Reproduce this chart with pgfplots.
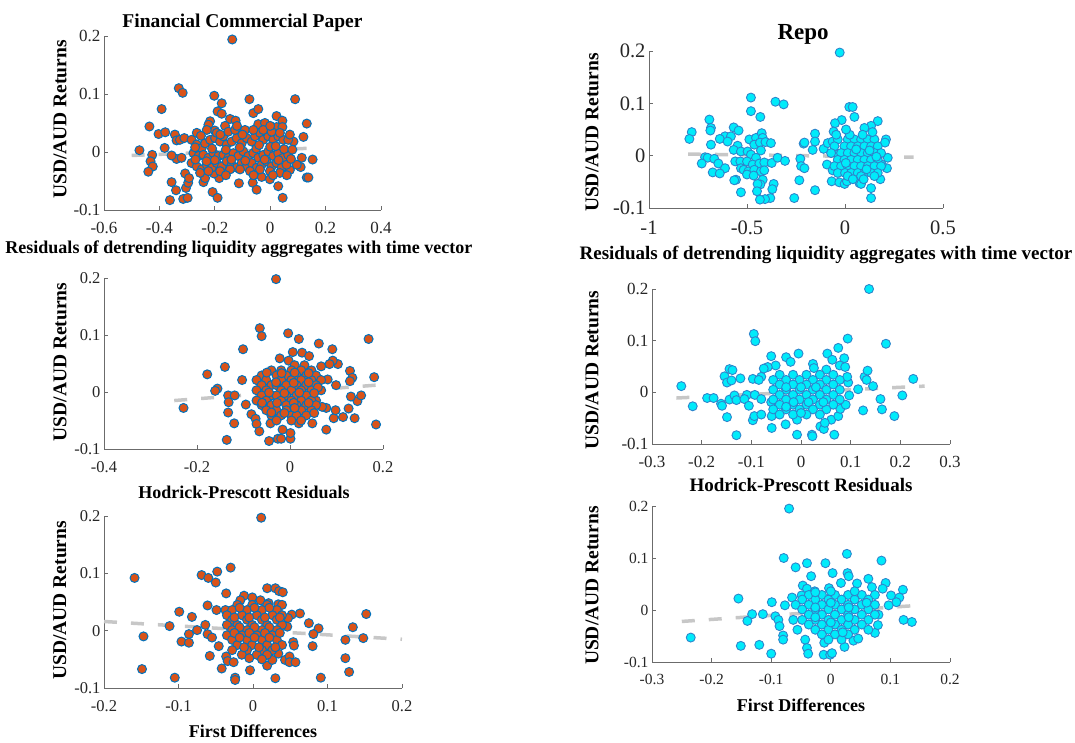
\documentclass[border=0pt]{standalone}
\usepackage{pgfplots}
\usepackage{pgfplotstable}
\pgfplotsset{compat=1.18}
\usepackage{fontspec}
\setmainfont{Liberation Serif}
\definecolor{mor}{rgb}{0.85,0.325,0.098}
\definecolor{mbl}{rgb}{0.0,0.447,0.741}
\definecolor{mcy}{rgb}{0.0,0.92,0.98}
\definecolor{cedge}{rgb}{0.18,0.52,0.80}
\definecolor{fitg}{rgb}{0.78,0.78,0.78}
\definecolor{axg}{rgb}{0.42,0.42,0.42}

\pgfplotstableread{
x y
-0.137 0.194
-0.330 0.110
-0.316 0.102
-0.202 0.097
-0.175 0.084
-0.075 0.091
0.090 0.091
-0.392 0.074
-0.190 0.070
-0.175 0.066
-0.061 0.067
-0.043 0.074
0.023 0.062
0.044 0.054
-0.145 0.057
-0.125 0.054
-0.217 0.053
-0.223 0.047
-0.163 0.045
0.132 0.049
-0.436 0.044
-0.043 0.048
-0.019 0.050
0.023 0.043
0.044 0.043
-0.200 0.037
-0.091 0.038
-0.403 0.031
-0.379 0.034
-0.344 0.030
0.120 0.026
0.084 0.018
-0.472 0.003
-0.381 0.007
-0.426 -0.005
-0.432 -0.016
-0.424 -0.025
-0.440 -0.034
0.153 -0.013
0.114 -0.010
0.110 -0.026
0.132 -0.044
0.138 -0.044
0.071 -0.031
0.096 -0.022
-0.356 -0.052
-0.340 -0.066
-0.362 -0.083
-0.314 -0.081
-0.298 -0.079
-0.304 -0.062
-0.296 -0.053
-0.307 -0.037
-0.293 -0.045
-0.208 -0.069
-0.190 -0.079
-0.113 -0.054
-0.063 -0.053
-0.049 -0.065
-0.031 -0.043
-0.001 -0.047
0.029 -0.059
0.045 -0.079
-0.241 -0.052
-0.235 -0.045
-0.184 -0.045
-0.203 -0.037
-0.338 -0.012
-0.320 -0.010
-0.356 -0.006
-0.338 0.020
-0.326 0.021
-0.310 0.024
-0.284 0.021
-0.265 0.013
-0.247 0.007
-0.235 0.015
-0.217 0.021
-0.199 0.024
-0.181 0.018
-0.169 0.027
-0.157 0.013
-0.139 0.018
-0.121 0.024
-0.103 0.015
-0.085 0.024
-0.067 0.018
-0.055 0.027
-0.037 0.033
-0.025 0.021
-0.007 0.027
0.011 0.021
0.029 0.027
0.047 0.021
0.065 0.021
-0.277 -0.002
-0.259 -0.007
-0.241 -0.005
-0.223 -0.010
-0.205 -0.002
-0.187 -0.007
-0.169 -0.005
-0.151 -0.010
-0.133 -0.002
-0.115 -0.007
-0.097 0.001
-0.079 -0.007
-0.061 -0.002
-0.043 -0.010
-0.025 -0.005
-0.007 0.001
0.011 -0.007
0.029 -0.002
0.047 -0.010
0.065 -0.005
-0.284 -0.019
-0.265 -0.025
-0.247 -0.030
-0.229 -0.022
-0.211 -0.027
-0.193 -0.019
-0.175 -0.025
-0.157 -0.016
-0.139 -0.022
-0.121 -0.027
-0.103 -0.019
-0.085 -0.025
-0.067 -0.019
-0.049 -0.027
-0.031 -0.022
-0.013 -0.016
0.005 -0.025
0.023 -0.019
0.041 -0.027
0.059 -0.022
-0.253 -0.036
-0.223 -0.033
-0.181 -0.033
-0.145 -0.030
-0.109 -0.030
-0.073 -0.033
-0.037 -0.030
-0.001 -0.033
0.035 -0.036
-0.265 0.033
-0.229 0.038
-0.193 0.033
-0.151 0.035
-0.127 0.038
-0.061 0.038
-0.025 0.038
0.005 0.035
0.035 0.033
0.071 0.030
-0.271 0.008
-0.210 0.006
-0.160 0.004
-0.110 0.008
-0.050 0.006
0.000 0.009
0.050 0.005
0.080 0.004
-0.270 -0.013
-0.200 -0.014
-0.140 -0.013
-0.090 -0.015
-0.020 -0.013
0.030 -0.014
0.075 -0.012
-0.250 0.028
-0.180 0.030
-0.100 0.030
-0.040 0.012
0.020 0.010
-0.230 -0.016
-0.160 -0.040
-0.060 -0.040
0.010 -0.040
0.060 -0.040
-0.120 0.045
0.000 0.045
}\dataA

\pgfplotstableread{
x y
-0.027 0.197
-0.480 0.111
-0.480 0.085
-0.355 0.103
-0.313 0.098
-0.432 0.074
0.022 0.093
0.039 0.093
0.048 0.074
-0.017 0.068
-0.051 0.062
0.167 0.066
0.133 0.057
0.099 0.053
-0.692 0.069
-0.684 0.053
-0.687 0.048
-0.782 0.045
-0.794 0.032
-0.568 0.054
-0.543 0.048
-0.612 0.037
-0.582 0.037
-0.639 0.032
-0.684 0.021
-0.599 0.027
-0.548 0.019
-0.568 0.011
-0.531 0.008
-0.714 -0.003
-0.701 -0.004
-0.667 -0.006
-0.731 -0.015
-0.646 -0.015
-0.612 -0.024
-0.675 -0.032
-0.639 -0.034
-0.560 -0.011
-0.534 -0.011
-0.531 -0.024
-0.556 -0.046
-0.565 -0.047
-0.531 -0.070
-0.488 0.031
-0.454 0.034
-0.425 0.043
-0.420 0.034
-0.463 0.021
-0.434 0.025
-0.406 0.026
-0.378 0.024
-0.429 0.010
-0.497 0.008
-0.480 0.002
-0.454 -0.004
-0.500 -0.011
-0.471 -0.017
-0.437 -0.015
-0.412 -0.013
-0.517 -0.027
-0.493 -0.030
-0.463 -0.027
-0.429 -0.030
-0.412 -0.028
-0.500 -0.036
-0.466 -0.038
-0.374 -0.014
-0.344 -0.004
-0.306 -0.010
-0.420 -0.046
-0.432 -0.055
-0.446 -0.054
-0.449 -0.068
-0.364 -0.054
-0.371 -0.064
-0.381 -0.081
-0.408 -0.083
-0.434 -0.084
-0.259 -0.081
-0.211 0.023
-0.207 0.025
-0.153 0.042
-0.153 0.027
-0.165 0.011
-0.228 -0.006
-0.224 -0.020
-0.207 -0.024
-0.233 -0.047
-0.153 -0.066
-0.109 0.013
-0.058 0.046
-0.088 0.024
-0.063 0.027
-0.092 -0.017
-0.063 -0.028
-0.068 -0.049
-0.029 -0.051
-0.002 -0.054
0.010 -0.049
0.073 -0.052
0.082 -0.054
0.133 -0.062
0.133 -0.081
0.180 -0.045
0.209 0.031
0.204 0.025
0.218 -0.004
0.214 -0.024
0.187 -0.017
-0.037 0.002
-0.037 0.031
0.014 0.031
0.048 0.031
0.082 0.031
0.116 0.031
0.150 0.031
-0.054 0.018
-0.003 0.018
0.031 0.018
0.065 0.018
0.099 0.018
0.133 0.018
0.167 0.018
-0.071 0.005
-0.020 0.005
0.014 0.005
0.048 0.005
0.082 0.005
0.116 0.005
0.150 0.005
0.184 0.005
-0.037 -0.008
-0.003 -0.008
0.031 -0.008
0.065 -0.008
0.099 -0.008
0.133 -0.008
0.167 -0.008
-0.054 -0.020
-0.020 -0.020
0.014 -0.020
0.048 -0.020
0.082 -0.020
0.116 -0.020
0.150 -0.020
0.184 -0.020
-0.037 -0.033
0.000 -0.033
0.031 -0.033
0.065 -0.033
0.099 -0.033
0.133 -0.033
0.167 -0.033
0.014 -0.039
0.082 -0.039
0.150 -0.039
0.024 0.040
0.090 0.040
0.140 0.045
0.004 -0.014
0.110 -0.026
0.057 0.012
0.125 0.010
0.160 -0.002
0.040 -0.045
0.095 -0.045
-0.045 0.040
0.005 0.050
}\dataB

\pgfplotstableread{
x y
-0.030 0.198
-0.065 0.112
-0.061 0.098
-0.004 0.103
0.019 0.093
0.062 0.085
0.169 0.093
-0.101 0.075
0.091 0.075
0.006 0.070
0.026 0.069
0.041 0.063
-0.022 0.059
-0.003 0.055
-0.140 0.044
-0.178 0.031
-0.103 0.021
-0.156 0.006
-0.161 0.002
-0.229 -0.028
-0.133 -0.006
-0.119 -0.006
-0.132 -0.018
-0.133 -0.036
-0.120 -0.055
-0.136 -0.084
-0.095 -0.022
-0.083 -0.039
-0.074 -0.047
-0.072 -0.056
-0.066 -0.069
-0.045 -0.086
-0.026 -0.082
-0.019 -0.082
0.001 -0.082
0.001 -0.072
-0.016 -0.066
-0.042 -0.055
0.019 -0.055
0.048 -0.055
0.078 -0.066
0.094 -0.046
0.114 -0.044
0.139 -0.046
0.126 -0.029
0.098 -0.032
0.078 -0.028
0.145 -0.016
0.153 -0.006
0.131 -0.008
0.185 -0.057
0.181 0.026
0.129 0.037
0.134 0.025
0.129 0.019
0.099 0.012
0.103 0.049
0.092 0.055
0.085 0.049
0.067 0.045
0.081 0.022
0.049 0.023
0.031 0.047
0.010 0.047
0.049 -0.008
0.056 -0.015
0.069 -0.026
-0.040 0.038
-0.019 0.038
0.003 0.038
0.024 0.038
0.046 0.038
-0.061 0.029
-0.029 0.029
-0.008 0.029
0.014 0.029
0.035 0.029
0.056 0.029
-0.072 0.021
-0.051 0.021
-0.019 0.021
0.003 0.021
0.024 0.021
0.046 0.021
0.067 0.021
-0.061 0.012
-0.040 0.012
-0.029 0.012
-0.008 0.012
0.014 0.012
0.035 0.012
0.056 0.012
-0.072 0.003
-0.051 0.003
-0.019 0.003
0.003 0.003
0.024 0.003
0.046 0.003
0.067 0.003
-0.061 -0.006
-0.040 -0.006
-0.029 -0.006
-0.008 -0.006
0.014 -0.006
0.035 -0.006
-0.072 -0.015
-0.051 -0.015
-0.019 -0.015
0.003 -0.015
0.024 -0.015
0.046 -0.015
-0.061 -0.023
-0.040 -0.023
-0.008 -0.023
0.014 -0.023
0.035 -0.023
0.056 -0.023
-0.051 -0.032
-0.029 -0.032
-0.008 -0.032
0.024 -0.032
0.046 -0.032
-0.040 -0.041
-0.019 -0.041
0.003 -0.041
0.014 -0.041
0.035 -0.041
-0.029 -0.050
0.003 -0.050
0.024 -0.050
-0.050 0.034
-0.018 0.033
0.010 0.034
0.040 0.033
-0.030 0.017
0.008 0.016
0.040 0.017
0.060 0.008
-0.045 -0.001
-0.012 -0.002
0.020 -0.001
0.052 -0.002
-0.060 -0.019
-0.028 -0.019
0.008 -0.019
0.040 -0.019
-0.040 -0.036
-0.012 -0.037
0.010 -0.028
0.052 -0.037
}\dataC

\pgfplotstableread{
x y
0.137 0.200
-0.095 0.113
-0.092 0.099
0.094 0.104
0.171 0.094
0.075 0.086
-0.060 0.070
-0.030 0.068
-0.005 0.075
-0.021 0.059
0.053 0.075
0.063 0.063
0.087 0.066
0.078 0.052
0.089 0.049
0.024 0.055
0.026 0.047
0.051 0.044
-0.051 0.052
-0.067 0.049
-0.075 0.046
-0.144 0.045
-0.138 0.043
-0.154 0.031
-0.149 0.019
-0.140 0.023
-0.122 0.027
-0.097 0.026
-0.080 0.030
-0.085 0.024
-0.241 0.012
-0.218 -0.027
-0.189 -0.011
-0.176 -0.011
-0.161 -0.022
-0.159 -0.026
-0.149 -0.048
-0.144 -0.014
-0.134 -0.006
-0.130 -0.015
-0.130 -0.083
-0.109 -0.005
-0.114 -0.013
-0.105 -0.026
-0.097 -0.054
-0.094 -0.046
-0.093 -0.005
-0.080 -0.043
-0.080 -0.013
-0.060 -0.019
-0.059 -0.046
-0.059 -0.069
-0.031 -0.062
-0.008 -0.082
-0.008 -0.053
0.022 -0.082
0.023 -0.085
0.039 -0.066
0.046 -0.071
0.067 -0.082
0.061 -0.053
0.075 -0.046
0.079 -0.032
0.090 -0.024
0.097 -0.006
0.095 0.019
0.093 0.030
0.128 0.030
0.132 0.024
0.134 0.042
0.145 0.012
0.115 0.006
0.125 -0.035
0.160 -0.013
0.163 -0.033
0.188 -0.046
0.204 -0.006
0.226 0.026
0.048 -0.059
-0.043 0.034
-0.016 0.034
0.011 0.034
0.038 0.034
0.065 0.034
-0.056 0.024
-0.030 0.024
-0.003 0.024
0.024 0.024
0.051 0.024
0.078 0.024
-0.043 0.015
-0.016 0.015
0.011 0.015
0.038 0.015
0.065 0.015
-0.056 0.005
-0.030 0.005
-0.003 0.005
0.024 0.005
0.051 0.005
0.078 0.005
-0.043 -0.005
-0.016 -0.005
0.011 -0.005
0.038 -0.005
0.065 -0.005
-0.056 -0.014
-0.030 -0.014
-0.003 -0.014
0.024 -0.014
0.051 -0.014
0.078 -0.014
-0.043 -0.024
-0.016 -0.024
0.011 -0.024
0.038 -0.024
0.065 -0.024
-0.056 -0.033
-0.030 -0.033
-0.003 -0.033
0.024 -0.033
0.051 -0.033
-0.043 -0.043
-0.016 -0.043
0.011 -0.043
0.038 -0.043
-0.030 0.010
0.000 0.010
0.030 0.010
-0.015 -0.019
0.015 -0.019
0.045 -0.019
-0.030 -0.028
0.000 -0.040
}\dataD

\pgfplotstableread{
x y
0.011 0.197
-0.159 0.092
-0.069 0.097
-0.060 0.092
-0.048 0.103
-0.050 0.084
-0.030 0.110
-0.036 0.065
0.019 0.074
0.030 0.074
0.035 0.069
0.040 0.067
-0.012 0.061
-0.001 0.058
0.010 0.053
0.021 0.048
0.034 0.046
-0.017 0.053
-0.061 0.044
-0.099 0.033
-0.082 0.024
-0.049 0.036
-0.037 0.036
0.063 0.030
0.152 0.029
0.052 0.028
0.075 0.013
0.088 0.004
0.134 0.006
0.081 -0.006
0.080 -0.027
0.124 -0.016
0.148 -0.013
0.124 -0.048
0.129 -0.072
0.091 -0.082
0.030 -0.083
-0.112 0.008
-0.147 -0.010
-0.149 -0.067
-0.105 -0.082
-0.096 -0.019
-0.086 -0.006
-0.086 -0.021
-0.075 0.001
-0.064 0.010
-0.061 -0.006
-0.058 -0.044
-0.055 -0.012
-0.046 -0.027
-0.042 -0.066
-0.036 -0.045
-0.034 -0.053
-0.026 -0.055
-0.024 -0.082
-0.024 -0.086
-0.004 -0.069
0.019 -0.061
0.026 -0.051
0.034 -0.040
0.043 -0.051
0.049 -0.045
0.049 -0.055
0.057 -0.055
0.054 -0.020
0.055 -0.026
0.046 0.007
0.047 0.022
-0.021 0.045
-0.001 0.045
0.019 0.045
0.039 0.045
-0.028 0.036
-0.008 0.036
0.012 0.036
0.032 0.036
-0.035 0.027
-0.015 0.027
0.005 0.027
0.026 0.027
0.039 0.027
-0.028 0.019
-0.008 0.019
0.012 0.019
0.032 0.019
-0.035 0.010
-0.021 0.010
-0.001 0.010
0.019 0.010
0.039 0.010
-0.028 0.001
-0.008 0.001
0.012 0.001
0.032 0.001
-0.035 -0.008
-0.015 -0.008
0.005 -0.008
0.026 -0.008
-0.028 -0.016
-0.008 -0.016
0.012 -0.016
0.032 -0.016
-0.021 -0.025
-0.001 -0.025
0.019 -0.025
0.039 -0.025
-0.028 -0.034
-0.008 -0.034
0.012 -0.034
0.026 -0.034
-0.015 -0.042
0.005 -0.042
0.019 -0.042
-0.018 0.040
0.002 0.040
0.022 0.040
-0.025 0.023
-0.005 0.023
0.016 0.023
0.036 0.023
-0.018 0.006
0.002 0.006
0.022 0.006
-0.025 -0.004
-0.005 -0.004
0.016 -0.004
0.036 -0.004
-0.018 -0.012
0.002 -0.012
0.022 -0.012
-0.012 -0.029
0.008 -0.029
0.030 -0.029
-0.005 -0.048
0.012 -0.050
}\dataE

\pgfplotstableread{
x y
-0.070 0.195
0.027 0.108
0.085 0.095
-0.079 0.100
-0.059 0.082
-0.040 0.090
-0.009 0.090
0.003 0.071
-0.033 0.065
0.028 0.071
0.030 0.065
0.063 0.060
0.044 0.051
0.069 0.044
0.092 0.052
0.087 0.041
0.121 0.039
0.101 0.028
0.115 0.024
0.110 0.015
0.097 0.009
-0.155 0.022
-0.099 0.015
-0.077 0.009
-0.132 -0.008
-0.114 -0.008
-0.140 -0.021
-0.235 -0.053
-0.151 -0.069
-0.120 -0.067
-0.100 -0.084
-0.093 -0.012
-0.088 -0.019
-0.086 -0.031
-0.080 -0.049
-0.080 -0.057
-0.065 0.024
-0.063 -0.019
-0.056 -0.038
-0.043 -0.057
-0.040 -0.073
-0.038 -0.084
-0.012 -0.086
-0.001 -0.086
0.002 -0.083
0.023 -0.071
-0.011 -0.063
0.038 -0.059
0.046 -0.055
0.074 -0.044
0.079 -0.029
0.080 -0.009
0.122 -0.019
0.136 -0.023
-0.047 0.047
-0.040 0.041
-0.027 0.036
-0.049 0.028
0.017 0.052
-0.003 0.042
-0.037 0.029
-0.015 0.029
0.007 0.029
0.029 0.029
0.052 0.029
0.074 0.029
-0.048 0.020
-0.026 0.020
-0.004 0.020
0.018 0.020
0.040 0.020
0.063 0.020
-0.059 0.010
-0.037 0.010
-0.015 0.010
0.007 0.010
0.029 0.010
0.052 0.010
0.074 0.010
-0.048 0.001
-0.026 0.001
-0.004 0.001
0.018 0.001
0.040 0.001
0.063 0.001
-0.037 -0.009
-0.015 -0.009
0.007 -0.009
0.029 -0.009
0.052 -0.009
0.074 -0.009
-0.048 -0.019
-0.026 -0.019
-0.004 -0.019
0.018 -0.019
0.040 -0.019
0.063 -0.019
-0.037 -0.028
-0.015 -0.028
0.007 -0.028
0.029 -0.028
0.052 -0.028
-0.026 -0.038
-0.004 -0.038
0.018 -0.038
0.040 -0.038
0.063 -0.038
-0.015 -0.047
0.007 -0.047
0.029 -0.047
-0.004 -0.057
0.018 -0.057
-0.026 0.034
0.000 0.036
0.040 0.036
-0.026 0.005
0.000 0.014
0.030 0.005
0.060 0.014
-0.026 -0.014
0.000 -0.024
0.030 -0.014
0.020 -0.043
}\dataF

\pgfplotsset{
  mat/.style={
    scale only axis, anchor=south west,
    axis lines*=left,
    tick align=inside, major tick length=4pt,
    axis line style={axg, line width=0.8pt},
    every tick/.style={axg, line width=0.8pt},
    ymin=-0.1, ymax=0.2,
    ytick={-0.1,0,0.1,0.2},
    yticklabels={-0.1,0,0.1,0.2},
    tick label style={black!85},
    xticklabel style={yshift=-9pt},
    ylabel={USD/AUD Returns},
    ylabel style={font=\fontsize{19.5}{20}\selectfont\bfseries, anchor=center},
    xlabel style={font=\fontsize{18}{19}\selectfont\bfseries, anchor=center},
    title style={font=\fontsize{19.5}{20}\selectfont\bfseries, anchor=center},
    clip=false,
  },
  orng/.style={only marks, mark=*, mark size=4.5pt, mark options={fill=mor, draw=mbl, line width=1pt}},
  cyn/.style={only marks, mark=*, mark size=4.5pt, mark options={fill=mcy, draw=cedge, line width=0.9pt}},
  fit/.style={fitg, line width=3.5pt, dash pattern=on 13pt off 14pt},
}

\begin{document}
\begin{tikzpicture}
\useasboundingbox (0,0) rectangle (1075pt,742pt);
% Panel 1
\begin{axis}[mat, at={(104pt,532pt)}, width=277pt, height=174pt,
  xmin=-0.6, xmax=0.4, xtick={-0.6,-0.4,-0.2,0,0.2,0.4},
  xticklabels={-0.6,-0.4,-0.2,0,0.2,0.4},
  ticklabel style={font=\fontsize{17}{17}\selectfont},
  title={Financial Commercial Paper},
  title style={at={(axis description cs:0.5,1.04)}},
  xlabel={Residuals of detrending liquidity aggregates with time vector},
  xlabel style={at={(axis description cs:0.487,-0.225)}},
  ylabel style={at={(axis description cs:-0.159,0.52)}}]
\addplot[orng] table {\dataA};
\addplot[fit] coordinates {(-0.5,-0.006) (0.17,0.007)};
\end{axis}
% Panel 2
\begin{axis}[mat, at={(649pt,534pt)}, width=294pt, height=157pt,
  xmin=-1, xmax=0.5, xtick={-1,-0.5,0,0.5},
  xticklabels={-1,-0.5,0,0.5},
  ticklabel style={font=\fontsize{20.5}{21}\selectfont},
  title={Repo},
  title style={at={(axis description cs:0.524,1.07)}, font=\fontsize{23}{23}\selectfont\bfseries},
  xlabel={Residuals of detrending liquidity aggregates with time vector},
  xlabel style={at={(axis description cs:0.602,-0.3)}, font=\fontsize{19}{19}\selectfont\bfseries},
  ylabel style={at={(axis description cs:-0.194,0.48)}}]
\addplot[cyn] table {\dataB};
\addplot[fit] coordinates {(-0.8,0.003) (0.35,-0.003)};
\end{axis}
% Panel 3
\begin{axis}[mat, at={(104pt,293pt)}, width=279pt, height=171pt,
  xmin=-0.4, xmax=0.2, xtick={-0.4,-0.2,0,0.2},
  xticklabels={-0.4,-0.2,0,0.2},
  ticklabel style={font=\fontsize{16.5}{17}\selectfont},
  xlabel={Hodrick-Prescott Residuals},
  xlabel style={at={(axis description cs:0.502,-0.255)}},
  ylabel style={at={(axis description cs:-0.158,0.509)}}]
\addplot[orng] table {\dataC};
\addplot[fit] coordinates {(-0.249,-0.015) (0.201,0.013)};
\end{axis}
% Panel 4
\begin{axis}[mat, at={(652pt,298pt)}, width=298pt, height=155pt,
  xmin=-0.3, xmax=0.3, xtick={-0.3,-0.2,-0.1,0,0.1,0.2,0.3},
  xticklabels={-0.3,-0.2,-0.1,0,0.1,0.2,0.3},
  ticklabel style={font=\fontsize{17}{17}\selectfont},
  xlabel={Hodrick-Prescott Residuals},
  xlabel style={at={(axis description cs:0.5,-0.265)}, font=\fontsize{19}{19}\selectfont\bfseries},
  ylabel style={at={(axis description cs:-0.201,0.477)}}]
\addplot[cyn] table {\dataD};
\addplot[fit] coordinates {(-0.251,-0.011) (0.249,0.012)};
\end{axis}
% Panel 5
\begin{axis}[mat, at={(104pt,54pt)}, width=298pt, height=172pt,
  xmin=-0.2, xmax=0.2, xtick={-0.2,-0.1,0,0.1,0.2},
  xticklabels={-0.2,-0.1,0,0.1,0.2},
  ticklabel style={font=\fontsize{16.5}{17}\selectfont},
  xlabel={First Differences},
  xlabel style={at={(axis description cs:0.5,-0.25)}},
  ylabel style={at={(axis description cs:-0.148,0.51)}}]
\addplot[orng] table {\dataE};
\addplot[fit] coordinates {(-0.2,0.016) (0.2,-0.015)};
\end{axis}
% Panel 6
\begin{axis}[mat, at={(652pt,80pt)}, width=298pt, height=156pt,
  xmin=-0.3, xmax=0.2, xtick={-0.3,-0.2,-0.1,0,0.1,0.2},
  xticklabels={-0.3,-0.2,-0.1,0,0.1,0.2},
  ticklabel style={font=\fontsize{15.5}{16}\selectfont},
  xlabel={First Differences},
  xlabel style={at={(axis description cs:0.5,-0.276)}},
  ylabel style={at={(axis description cs:-0.201,0.49)}}]
\addplot[cyn] table {\dataF};
\addplot[fit] coordinates {(-0.25,-0.022) (0.148,0.009)};
\end{axis}
\end{tikzpicture}
\end{document}
